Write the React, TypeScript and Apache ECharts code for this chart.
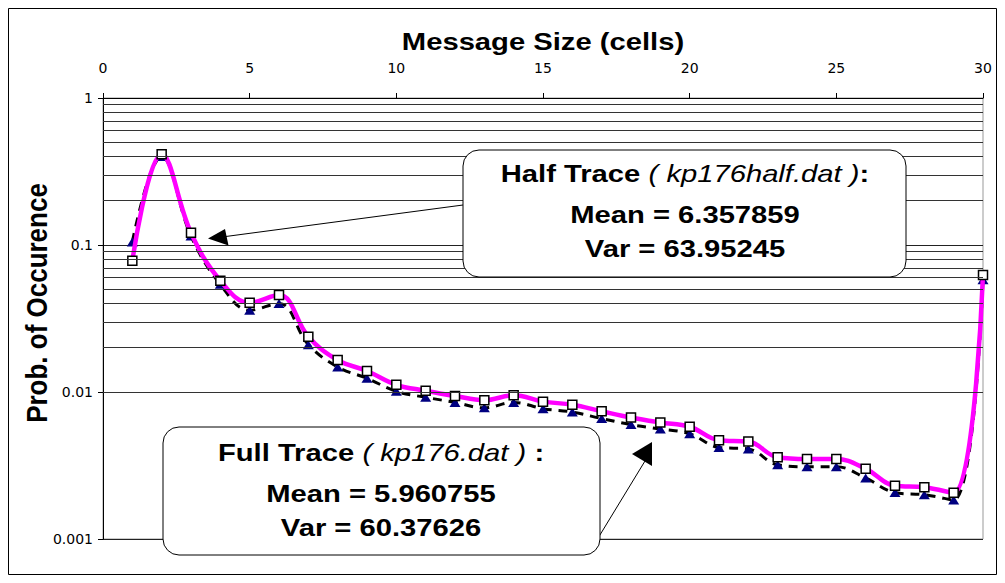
import React, { useEffect, useRef } from "react";
import * as echarts from "echarts";

// Message size in cells (x values)
const messageSizes = [
  1, 2, 3, 4, 5, 6, 7, 8, 9, 10, 11, 12, 13, 14, 15, 16, 17, 18, 19, 20, 21,
  22, 23, 24, 25, 26, 27, 28, 29, 30,
];

// Probability of occurrence, half trace (kp176half.dat)
const halfTrace = [
  0.078, 0.414, 0.121, 0.0572, 0.0405, 0.0457, 0.0238, 0.0165, 0.0139, 0.0112,
  0.0102, 0.0094, 0.0088, 0.0095, 0.0086, 0.0082, 0.0074, 0.0067, 0.0062,
  0.0058, 0.0047, 0.0046, 0.0036, 0.0035, 0.0035, 0.003, 0.0023, 0.00225,
  0.00206, 0.0625,
];

// Probability of occurrence, full trace (kp176.dat)
const fullTrace = [
  0.105, 0.4, 0.115, 0.054, 0.036, 0.04, 0.021, 0.0148, 0.0124, 0.0101, 0.0092,
  0.0085, 0.0078, 0.0085, 0.0077, 0.0073, 0.0066, 0.006, 0.0056, 0.0052,
  0.0042, 0.0041, 0.0032, 0.0031, 0.0031, 0.0026, 0.00207, 0.002, 0.00184,
  0.058,
];

// Axis settings
const xMin = 0;
const xMax = 30;
const xStep = 5;
const yMin = 0.001;
const yMax = 1;
const yTickLabels: Record<string, string> = {
  "1": "1",
  "0.1": "0.1",
  "0.01": "0.01",
  "0.001": "0.001",
};

// Minor log gridlines: 2..9 within each decade
const decadeStarts = [0.001, 0.01, 0.1];
const minorSteps = [2, 3, 4, 5, 6, 7, 8, 9];

// Texts
const chartTitle = "Message Size (cells)";
const yAxisTitle = "Prob. of Occurence";
const halfNote = {
  name: "Half Trace ",
  file: "( kp176half.dat )",
  sep: ":",
  mean: "Mean = 6.357859",
  variance: "Var = 63.95245",
};
const fullNote = {
  name: "Full Trace ",
  file: "( kp176.dat )",
  sep: " :",
  mean: "Mean = 5.960755",
  variance: "Var = 60.37626",
};

const FONT = "'Liberation Sans', Arial, Helvetica, sans-serif";
const TICK_FONT = "'DejaVu Sans', 'Liberation Sans', Arial, sans-serif";
// the drawing's lettering is set wide
const WIDE = 1.27;

export default function App() {
  const ref = useRef<HTMLDivElement>(null);

  useEffect(() => {
    if (!ref.current) return;
    const chart = echarts.init(ref.current, undefined, { renderer: "svg" });

    const minorGrid = decadeStarts.flatMap((d) =>
      minorSteps.map((s) => Number((d * s).toPrecision(3)))
    );

    const boldText = (text: string, x: number, y: number): any => ({
      type: "text",
      x,
      y,
      scaleX: WIDE,
      style: {
        text,
        align: "center",
        verticalAlign: "middle",
        fontFamily: FONT,
        fontSize: 23,
        fontWeight: "bold",
        fill: "#000",
      },
      z: 20,
    });

    const noteText = (
      note: typeof halfNote,
      cx: number,
      top: number
    ): any[] => [
      {
        type: "text",
        x: cx,
        y: top + 24,
        scaleX: WIDE,
        style: {
          text: `{b|${note.name}}{i|${note.file}}{b|${note.sep}}`,
          align: "center",
          verticalAlign: "middle",
          rich: {
            b: {
              fontFamily: FONT,
              fontSize: 23,
              fontWeight: "bold",
              fill: "#000",
            },
            i: {
              fontFamily: FONT,
              fontSize: 23,
              fontStyle: "italic",
              fill: "#000",
            },
          },
        },
        z: 20,
      },
      boldText(note.mean, cx, top + 65),
      boldText(note.variance, cx, top + 99),
    ];

    chart.setOption({
      animation: false,
      backgroundColor: "#fff",
      grid: {
        left: 103,
        right: 22,
        top: 98,
        bottom: 44,
        show: true,
        borderColor: "#999",
        borderWidth: 1,
      },
      xAxis: {
        type: "value",
        position: "top",
        min: xMin,
        max: xMax,
        interval: xStep,
        axisLine: { show: true, lineStyle: { color: "#000", width: 1 } },
        axisTick: { show: true, length: 5, lineStyle: { color: "#000" } },
        axisLabel: {
          margin: 23,
          fontSize: 14,
          fontFamily: TICK_FONT,
          color: "#000",
        },
        splitLine: { show: false },
      },
      yAxis: {
        type: "log",
        logBase: 10,
        min: yMin,
        max: yMax,
        axisLine: {
          show: true,
          onZero: false,
          lineStyle: { color: "#000", width: 1 },
        },
        axisTick: { show: true, length: 5, lineStyle: { color: "#000" } },
        axisLabel: {
          margin: 10,
          fontSize: 14,
          fontFamily: TICK_FONT,
          color: "#000",
          formatter: (v: number) => yTickLabels[String(v)] ?? String(v),
        },
        splitLine: { show: true, lineStyle: { color: "#222", width: 1 } },
        minorTick: { show: false },
      },
      series: [
        {
          name: "gridlines",
          type: "line",
          data: [],
          silent: true,
          z: 1,
          markLine: {
            silent: true,
            symbol: ["none", "none"],
            label: { show: false },
            lineStyle: { color: "#333", width: 1, type: "solid" },
            emphasis: { disabled: true },
            data: minorGrid.map((v) => ({ yAxis: v })),
          },
        },
        {
          name: "Full Trace",
          type: "line",
          z: 3,
          smooth: 0.4,
          data: messageSizes.map((x, i) => [x, fullTrace[i]]),
          symbol: "triangle",
          symbolSize: [11, 9],
          itemStyle: { color: "#000080" },
          lineStyle: { color: "#000", width: 3, type: [9, 7] },
        },
        {
          name: "Half Trace",
          type: "line",
          z: 4,
          smooth: 0.4,
          data: messageSizes.map((x, i) => [x, halfTrace[i]]),
          symbol: "rect",
          symbolSize: 9,
          itemStyle: { color: "#fff", borderColor: "#000", borderWidth: 1.5 },
          lineStyle: { color: "#ff00ff", width: 4.5 },
        },
      ],
      graphic: [
        // outer frame
        {
          type: "rect",
          shape: { x: 8.5, y: 8.5, width: 988, height: 566 },
          style: { fill: "none", stroke: "#000", lineWidth: 1 },
          silent: true,
          z: 0,
        },
        boldText(chartTitle, 543, 42),
        {
          type: "text",
          x: 37,
          y: 303,
          rotation: Math.PI / 2,
          scaleY: 1.15,
          style: {
            text: yAxisTitle,
            align: "center",
            verticalAlign: "middle",
            fontFamily: FONT,
            fontSize: 26,
            fontWeight: "bold",
            fill: "#000",
          },
        },
        // half-trace callout
        {
          type: "line",
          shape: { x1: 463, y1: 205, x2: 222, y2: 237 },
          style: { stroke: "#000", lineWidth: 1 },
          z: 18,
        },
        {
          type: "polygon",
          shape: {
            points: [
              [208, 238.5],
              [225, 229],
              [228.5, 245.5],
            ],
          },
          style: { fill: "#000" },
          z: 18,
        },
        {
          type: "rect",
          shape: { x: 463, y: 150, width: 443, height: 127, r: 16 },
          style: { fill: "#fff", stroke: "#000", lineWidth: 1 },
          z: 19,
        },
        ...noteText(halfNote, 685, 150),
        // full-trace callout
        {
          type: "line",
          shape: { x1: 592, y1: 548, x2: 645, y2: 461 },
          style: { stroke: "#000", lineWidth: 1 },
          z: 18,
        },
        {
          type: "polygon",
          shape: {
            points: [
              [632, 454],
              [652, 442],
              [652, 466],
            ],
          },
          style: { fill: "#000" },
          z: 18,
        },
        {
          type: "rect",
          shape: { x: 163, y: 427, width: 437, height: 128, r: 16 },
          style: { fill: "#fff", stroke: "#000", lineWidth: 1 },
          z: 19,
        },
        ...noteText(fullNote, 381, 429),
      ],
    });

    return () => chart.dispose();
  }, []);

  return (
    <div
      ref={ref}
      style={{
        position: "fixed",
        left: 0,
        top: 0,
        width: 1005,
        height: 583,
      }}
    />
  );
}
